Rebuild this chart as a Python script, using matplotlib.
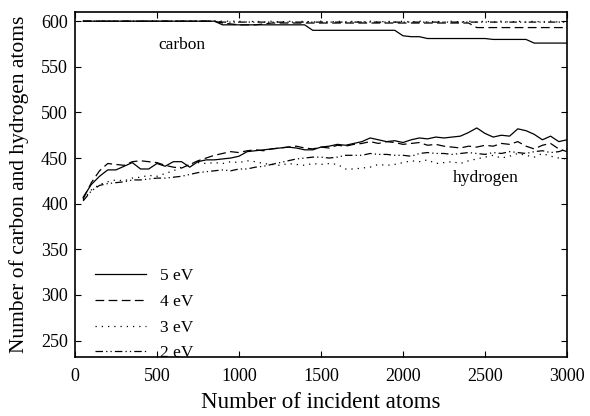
import matplotlib
matplotlib.use('Agg')
import matplotlib.pyplot as plt

plt.rcParams['font.family'] = ['Liberation Serif', 'DejaVu Serif']
plt.rcParams['mathtext.fontset'] = 'stix'

# number of incident atoms
x_atoms = list(range(50, 3001, 50))

# hydrogen atoms
h_5ev = [407, 421, 430, 437, 437, 441, 445, 438, 438, 444, 441, 446, 446, 440, 446,
         448, 448, 449, 450, 452, 457, 458, 459, 460, 461, 462, 461, 459, 459, 462,
         463, 465, 464, 466, 468, 472, 470, 468, 469, 467, 470, 472, 471, 473, 472,
         473, 474, 478, 483, 477, 473, 475, 474, 482, 480, 476, 470, 474, 468, 470]
h_4ev = [405, 423, 436, 444, 443, 442, 446, 447, 446, 445, 442, 440, 439, 443, 447,
         450, 453, 455, 457, 456, 458, 459, 458, 460, 461, 462, 463, 461, 460, 462,
         461, 464, 463, 465, 466, 468, 466, 468, 467, 465, 466, 467, 464, 465, 463,
         462, 461, 463, 462, 464, 463, 466, 465, 468, 463, 460, 464, 466, 460, 457]
h_3ev = [404, 415, 421, 424, 426, 425, 428, 429, 431, 430, 433, 436, 440, 443, 445,
         444, 445, 444, 446, 445, 447, 446, 444, 443, 442, 444, 443, 442, 444, 443,
         444, 443, 438, 438, 439, 440, 443, 442, 443, 445, 447, 446, 448, 444, 445,
         446, 444, 447, 449, 451, 453, 450, 452, 455, 453, 451, 455, 452, 450, 449]
h_2ev = [403, 414, 420, 422, 423, 424, 426, 426, 427, 428, 428, 429, 430, 432, 434,
         435, 436, 437, 436, 438, 438, 440, 441, 443, 445, 447, 449, 450, 451, 451,
         450, 451, 453, 453, 453, 455, 454, 454, 453, 453, 452, 455, 456, 455, 455,
         454, 455, 456, 455, 454, 456, 455, 457, 456, 455, 457, 458, 456, 457, 460]

# carbon atoms
c_5ev = [600] * 17 + [596] * 11 + [590] * 11 + [584, 583, 583] + [581] * 8 + [580] * 5 + [576] * 5
c_4ev = [600] * 17 + [598, 597, 596, 596, 596, 597] + [598] * 25 + [593] * 12
c_3ev = [600] * 20 + [599, 600] * 20
c_2ev = [600] * 17 + [599] * 43

labels = ['5 eV', '4 eV', '3 eV', '2 eV']
styles = ['-', (0, (7, 3.5)), (0, (1, 4)), (0, (6, 2.5, 1, 2.5, 1, 2.5))]

fig = plt.figure(figsize=(5.9, 4.16), dpi=100)
ax = fig.add_axes([0.127, 0.142, 0.834, 0.829])

h_series = [h_5ev, h_4ev, h_3ev, h_2ev]
c_series = [c_5ev, c_4ev, c_3ev, c_2ev]
for hs, cs, lab, ls in zip(h_series, c_series, labels, styles):
    ax.plot(x_atoms, hs, color='black', lw=0.9, linestyle=ls, label=lab)
    ax.plot(x_atoms, cs, color='black', lw=0.9, linestyle=ls)

ax.set_xlim(0, 3000)
ax.set_ylim(232, 610)
ax.set_xticks(range(0, 3001, 500))
ax.set_yticks(range(250, 601, 50))
ax.tick_params(direction='in', top=True, right=True, length=4, labelsize=13)
ax.tick_params(axis='x', pad=8)
ax.tick_params(axis='y', pad=5)
for sp in ax.spines.values():
    sp.set_linewidth(1.2)

ax.set_xlabel('Number of incident atoms', fontsize=16.5, labelpad=5)
ax.set_ylabel('Number of carbon and hydrogen atoms', fontsize=15.5, labelpad=9)

ax.text(650, 574, 'carbon', fontsize=12.5, ha='center', va='center')
ax.text(2505, 428, 'hydrogen', fontsize=12.5, ha='center', va='center')

ax.legend(loc='lower left', bbox_to_anchor=(0.01, -0.058), frameon=False,
          fontsize=12.5, handlelength=2.9, handletextpad=0.8, labelspacing=0.55)

fig.savefig('out.png', dpi=100)
